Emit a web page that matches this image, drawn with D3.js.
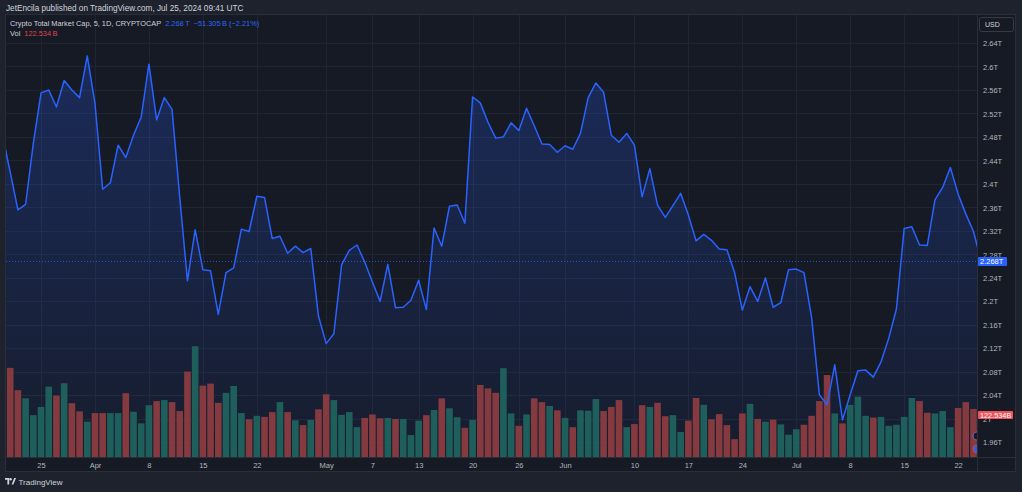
<!DOCTYPE html>
<html><head><meta charset="utf-8">
<script src="https://cdn.jsdelivr.net/npm/d3@7"></script>
<style>html,body{margin:0;padding:0;background:#1e222d;overflow:hidden}svg{display:block;font-family:"Liberation Sans",Arial,sans-serif}</style>
</head><body><svg id="c" width="1022" height="492"></svg>
<script>
// ---- DATA (daily, 2024-03-20 .. 2024-07-25) ----
const startDate = "2024-03-20", endDate = "2024-07-25";
const closeT = [
 2.483,2.420,2.356,2.365,2.469,2.555,2.560,2.531,2.576,2.560,2.547,2.618,
 2.537,2.391,2.402,2.466,2.445,2.483,2.514,2.604,2.509,2.547,2.527,2.377,2.235,2.322,2.254,2.252,2.178,2.249,2.257,2.323,2.319,2.379,2.377,2.307,2.311,2.282,2.294,2.283,2.290,2.175,
 2.128,2.145,2.262,2.287,2.296,2.267,2.233,2.200,2.263,2.189,2.190,2.202,2.236,2.186,2.325,2.294,2.362,2.364,2.333,2.548,2.538,2.505,2.478,2.480,2.504,2.491,2.529,2.499,2.468,2.467,2.454,
 2.465,2.459,2.486,2.547,2.572,2.556,2.483,2.471,2.486,2.466,2.378,2.426,2.364,2.343,2.363,2.384,2.347,2.303,2.314,2.304,2.289,2.288,2.249,2.185,2.225,2.200,2.240,2.190,2.198,2.254,
 2.255,2.249,2.172,2.041,2.024,2.092,1.998,2.041,2.082,2.083,2.071,2.097,2.137,2.187,2.324,2.327,2.296,2.295,2.373,2.394,2.428,2.383,2.349,2.319,2.268
];
const volumeB = [
 285,260,195,171,122,146,205,179,215,157,133,103,
 128,128,128,128,186,132,98,151,163,166,160,134,249,323,208,214,158,187,207,128,110,120,117,131,160,131,107,93,108,139,
 183,166,123,131,87,114,124,113,114,111,111,64,106,122,137,171,142,116,85,108,210,200,187,259,127,91,124,171,160,149,136,
 114,87,136,135,169,134,146,166,87,96,151,146,158,119,122,73,106,172,152,110,125,93,52,127,155,111,103,109,95,65,
 81,94,120,163,239,127,98,152,176,120,115,117,91,94,117,172,163,129,127,134,87,143,160,140,122.534
];
const volumeUp = [
 1,0,0,1,1,1,1,0,1,0,0,1,
 0,0,1,1,0,1,1,1,0,1,0,0,0,1,0,0,0,1,1,1,0,1,0,0,1,0,1,0,1,0,
 0,1,1,1,1,0,0,0,1,0,1,1,1,0,1,0,1,1,0,1,0,0,0,1,1,0,1,0,0,1,0,
 1,0,1,1,1,0,0,0,1,0,0,1,0,0,1,1,0,0,1,0,0,0,0,0,1,0,1,0,1,1,
 1,0,0,0,0,1,0,1,1,1,0,1,1,1,1,1,0,0,1,1,1,0,0,0,0
];
const priceTicks = [2.64,2.6,2.56,2.52,2.48,2.44,2.4,2.36,2.32,2.28,2.24,2.2,2.16,2.12,2.08,2.04,2,1.96];
const timeTickDates = ["2024-03-25","2024-04-01","2024-04-08","2024-04-15","2024-04-22","2024-05-01","2024-05-07","2024-05-13","2024-05-20","2024-05-26","2024-06-01","2024-06-10","2024-06-17","2024-06-24","2024-07-01","2024-07-08","2024-07-15","2024-07-22"];
const timeTickLabels = ["25","Apr","8","15","22","May","7","13","20","26","Jun","10","17","24","Jul","8","15","22"];
const lastPrice = 2.268, lastVol = 122.534;

// ---- LAYOUT ----
const svg = d3.select("#c");
const paneL = 5, paneT = 14, paneR = 1016, paneB = 472;
const plotL = 6, plotR = 977, plotB = 457;
const parse = d3.utcParse("%Y-%m-%d");
const days = d3.utcDay.range(parse(startDate), d3.utcDay.offset(parse(endDate), 1));
const data = days.map((d, i) => ({date: d, close: closeT[i], vol: volumeB[i], up: volumeUp[i]}));

const x = d3.scaleUtc().domain([parse(startDate), parse(endDate)]).range([2.5, 981.2]);
const y = d3.scaleLinear().domain([1.96, 2.64]).range([442.3, 43]);
const yv = d3.scaleLinear().domain([0, 300]).range([plotB, plotB - 300 * 0.343]);

svg.append("rect").attr("width", 1022).attr("height", 492).attr("fill", "#1e222d");
svg.append("rect").attr("x", paneL + 0.5).attr("y", paneT + 0.5).attr("width", paneR - paneL - 1).attr("height", paneB - paneT - 1)
  .attr("fill", "#161a25").attr("stroke", "#2a2e39");

// header
svg.append("text").attr("x", 6).attr("y", 11).attr("fill", "#d1d4dc").attr("font-size", 8.2)
  .text("JetEncila published on TradingView.com, Jul 25, 2024 09:41 UTC");

// grid
const grid = svg.append("g");
grid.selectAll("line.h").data(priceTicks).join("line")
  .attr("x1", plotL).attr("x2", plotR).attr("y1", d => Math.round(y(d)) + 0.5).attr("y2", d => Math.round(y(d)) + 0.5)
  .attr("stroke", "#212532").attr("stroke-width", 1);
grid.selectAll("line.v").data(timeTickDates).join("line")
  .attr("y1", paneT + 1).attr("y2", plotB).attr("x1", d => Math.round(x(parse(d))) + 0.5).attr("x2", d => Math.round(x(parse(d))) + 0.5)
  .attr("stroke", "#212532").attr("stroke-width", 1);

// clip
svg.append("clipPath").attr("id", "clip").append("rect").attr("x", plotL).attr("y", paneT + 1).attr("width", plotR - plotL).attr("height", plotB - paneT - 1);
const plot = svg.append("g").attr("clip-path", "url(#clip)");

// gradient
const defs = svg.append("defs");
const g = defs.append("linearGradient").attr("id", "ag").attr("gradientUnits", "userSpaceOnUse")
  .attr("x1", 0).attr("x2", 0).attr("y1", 55).attr("y2", plotB);
g.append("stop").attr("offset", 0).attr("stop-color", "#2962ff").attr("stop-opacity", 0.24);
g.append("stop").attr("offset", 1).attr("stop-color", "#2962ff").attr("stop-opacity", 0.04);

plot.append("path").datum(data)
  .attr("d", d3.area().x(d => x(d.date)).y0(plotB).y1(d => y(d.close)))
  .attr("fill", "url(#ag)");

// volume bars
const bw = 6.6;
plot.selectAll("rect.vol").data(data).join("rect")
  .attr("x", d => x(d.date) - bw / 2).attr("width", bw)
  .attr("y", d => yv(d.vol)).attr("height", d => plotB - yv(d.vol))
  .attr("fill", d => d.up ? "#1f5f5b" : "#843a3f");

plot.append("path").datum(data)
  .attr("d", d3.line().x(d => x(d.date)).y(d => y(d.close)))
  .attr("fill", "none").attr("stroke", "#2962ff").attr("stroke-width", 1.5).attr("stroke-linejoin", "round");

// last price dotted line
plot.append("line").attr("x1", plotL).attr("x2", plotR).attr("y1", y(lastPrice)).attr("y2", y(lastPrice))
  .attr("stroke", "#2962ff").attr("stroke-width", 1).attr("stroke-dasharray", "1,2").attr("opacity", 0.8);

// event markers at the right edge
plot.append("circle").attr("cx", plotR).attr("cy", 436).attr("r", 4).attr("fill", "#161a25").attr("stroke", "#7b5ea7").attr("stroke-width", 1.2);
plot.append("circle").attr("cx", plotR).attr("cy", 449).attr("r", 4).attr("fill", "#3a5bd9").attr("stroke", "#c0474f").attr("stroke-width", 1.2);

// separators
svg.append("line").attr("x1", plotR + 0.5).attr("x2", plotR + 0.5).attr("y1", paneT + 1).attr("y2", paneB - 1).attr("stroke", "#2a2e39");
svg.append("line").attr("x1", paneL + 1).attr("x2", paneR - 1).attr("y1", plotB + 0.5).attr("y2", plotB + 0.5).attr("stroke", "#2a2e39");

// y axis labels
const yAxis = d3.axisRight(y).tickValues(priceTicks).tickSize(0).tickPadding(0).tickFormat(d => (+d.toFixed(2)) + "T");
const ya = svg.append("g").attr("transform", `translate(983,0)`).call(yAxis);
ya.select(".domain").remove();
ya.selectAll("text").attr("fill", "#b2b5be").attr("font-size", 7.5).attr("font-family", '"Liberation Sans",Arial,sans-serif').attr("dy", "0.35em");

// x axis labels
const xAxis = d3.axisBottom(x).tickValues(timeTickDates.map(parse)).tickSize(0).tickPadding(0)
  .tickFormat((d, i) => timeTickLabels[i]);
const xa = svg.append("g").attr("transform", `translate(0,462)`).call(xAxis);
xa.select(".domain").remove();
xa.selectAll("text").attr("fill", "#b2b5be").attr("font-size", 7.5).attr("font-family", '"Liberation Sans",Arial,sans-serif').attr("dy", "0.35em").attr("y", 3);

// legend
const l1 = svg.append("text").attr("x", 10).attr("y", 26).attr("font-size", 7.4).attr("fill", "#d1d4dc");
l1.append("tspan").text("Crypto Total Market Cap, 5, 1D, CRYPTOCAP");
l1.append("tspan").attr("dx", 4).attr("fill", "#2f66f5").text("2.268\u2009T");
l1.append("tspan").attr("dx", 4).attr("fill", "#2f66f5").text("\u221251.305\u2009B (\u22122.21%)");
const l2 = svg.append("text").attr("x", 10).attr("y", 36).attr("font-size", 7.4).attr("fill", "#d1d4dc");
l2.append("tspan").text("Vol");
l2.append("tspan").attr("dx", 4).attr("fill", "#e0434d").text("122.534\u2009B");

// USD box
svg.append("rect").attr("x", 979.5).attr("y", 17.5).attr("width", 34).attr("height", 14).attr("rx", 2)
  .attr("fill", "#161a25").attr("stroke", "#363a45");
svg.append("text").attr("x", 985).attr("y", 27.3).attr("font-size", 7).attr("fill", "#d1d4dc").text("USD");

// price label
const py = y(lastPrice);
svg.append("rect").attr("x", 978).attr("y", py - 4.5).attr("width", 29).attr("height", 9).attr("rx", 1).attr("fill", "#2962ff");
svg.append("text").attr("x", 980).attr("y", py).attr("dy", "0.35em").attr("font-size", 7.5).attr("fill", "#ffffff").text("2.268T");

// volume label
const vy = yv(lastVol);
svg.append("rect").attr("x", 978).attr("y", vy - 4).attr("width", 35).attr("height", 8).attr("rx", 1).attr("fill", "#f0545a");
svg.append("text").attr("x", 980).attr("y", vy).attr("dy", "0.35em").attr("font-size", 7.3).attr("fill", "#ffffff").text("122.534B");

// bottom logo
const logo = svg.append("g").attr("transform", "translate(5,478)").attr("fill", "#d1d4dc");
logo.append("path").attr("d", "M0 0 H4.2 V6.5 H2.4 V1.8 H0 Z");
logo.append("circle").attr("cx", 5.6).attr("cy", 1.2).attr("r", 1.2);
logo.append("path").attr("d", "M6.6 6.5 L9.2 0 H11 L8.4 6.5 Z");
svg.append("text").attr("x", 18.5).attr("y", 485).attr("font-size", 8).attr("fill", "#d1d4dc").text("TradingView");
</script></body></html>
